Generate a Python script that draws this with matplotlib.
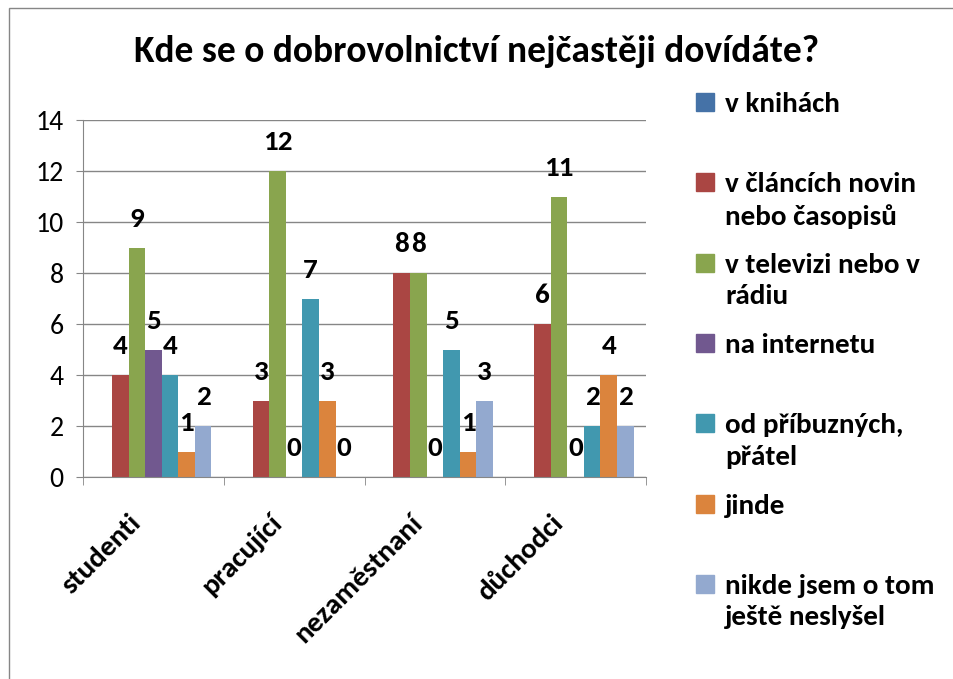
import numpy as np
import matplotlib.pyplot as plt
from matplotlib.patches import Rectangle
from matplotlib.transforms import ScaledTranslation

plt.rcParams['font.family'] = ['Carlito', 'Lato', 'DejaVu Sans']

title = 'Kde se o dobrovolnictví nejčastěji dovídáte?'
categories = ['studenti', 'pracující', 'nezaměstnaní', 'důchodci']
series_names = ['v knihách', 'v článcích novin\nnebo časopisů', 'v televizi nebo v\nrádiu',
                'na internetu', 'od příbuzných,\npřátel', 'jinde', 'nikde jsem o tom\nještě neslyšel']
v_knihach = [None, None, None, None]
v_clancich = [4, 3, 8, 6]
v_televizi = [9, 12, 8, 11]
na_internetu = [5, 0, 0, 0]
od_pribuznych = [4, 7, 5, 2]
jinde = [1, 3, 1, 4]
nikde = [2, 0, 3, 2]
series = [v_knihach, v_clancich, v_televizi, na_internetu, od_pribuznych, jinde, nikde]
colors = ['#4572A7', '#AA4643', '#89A54E', '#71588F', '#4198AF', '#DB843D', '#93A9CF']

W, H = 954, 679
fig = plt.figure(figsize=(W / 100, H / 100), dpi=100)
ax = fig.add_axes([83 / W, 1 - 477 / H, (646 - 83) / W, (477 - 120) / H])

x = np.arange(len(categories))
w = 1 / 8.5
for i, vals in enumerate(series):
    pos = x + (i - 3) * w
    for xp, v in zip(pos, vals):
        if v is None:
            continue
        ax.bar(xp, v, width=w, color=colors[i], linewidth=0)
        ax.annotate(str(v), (xp, v), xytext=(0, 15), textcoords='offset points',
                    ha='center', va='baseline', fontsize=21, fontweight='bold')

grey = '#868686'
ax.set_xlim(-0.5, 3.5)
ax.set_ylim(0, 14)
ax.set_yticks(range(0, 15, 2))
ax.yaxis.grid(True, color=grey, lw=1)
ax.set_axisbelow(True)
for s in ['top', 'right']:
    ax.spines[s].set_visible(False)
for s in ['left', 'bottom']:
    ax.spines[s].set_color(grey)
ax.tick_params(axis='y', direction='out', length=5, color=grey, labelsize=20, pad=9)
ax.set_xticks(x)
ax.set_xticklabels(categories, rotation=45, ha='right', va='top', rotation_mode='anchor',
                   fontsize=21, fontweight='bold')
ax.tick_params(axis='x', which='major', length=0, pad=24)
shift = ScaledTranslation(-25 / 100, 0, fig.dpi_scale_trans)
for lab in ax.get_xticklabels():
    lab.set_transform(lab.get_transform() + shift)
ax.set_xticks(np.arange(-0.5, 4, 1), minor=True)
ax.tick_params(axis='x', which='minor', direction='out', length=6, color=grey)

fig.text(0.5, 1 - 52 / H, title, ha='center', va='center', fontsize=27, fontweight='bold')

# legend drawn by hand to match the spacing
for i, name in enumerate(series_names):
    top = 93 + i * 80.3
    fig.add_artist(Rectangle((696 / W, 1 - (top + 18) / H), 18 / W, 18 / H,
                             transform=fig.transFigure, color=colors[i]))
    fig.text(725 / W, 1 - (top - 1) / H, name, va='top', linespacing=1.37,
             fontsize=21, fontweight='bold')

fig.add_artist(Rectangle((9 / W, -0.1), 2, 1.1 - 8 / H, transform=fig.transFigure,
                         fill=False, edgecolor=grey, lw=1))

fig.savefig('out.png', dpi=100)
